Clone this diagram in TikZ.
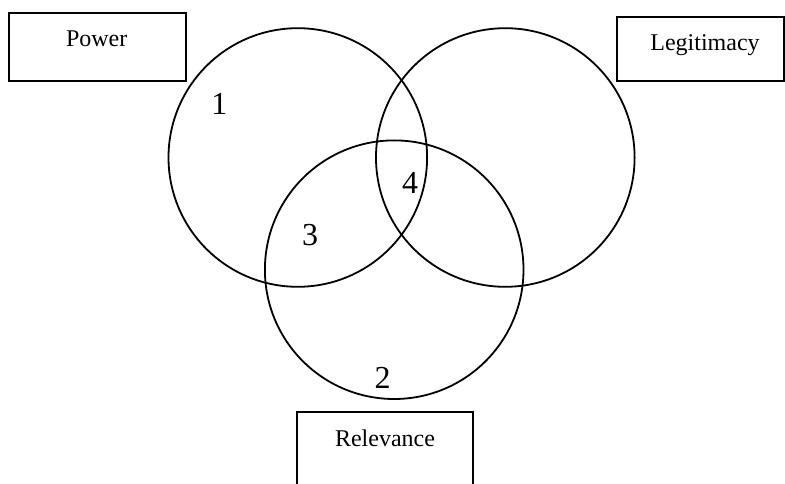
\documentclass[tikz,border=0pt]{standalone}
\usepackage{fontspec}
\setmainfont{Liberation Serif}
\begin{document}
\begin{tikzpicture}[x=1pt,y=-1pt,
  ring/.style={draw,circle,line width=1.8pt,inner sep=0pt,outer sep=0pt,minimum size=258.6pt},
  tag/.style={draw,rectangle,line width=2pt,inner sep=0pt,outer sep=0pt,anchor=north west},
  word/.style={font=\fontsize{24}{28}\selectfont,anchor=base,inner sep=0pt},
  digit/.style={font=\fontsize{32}{36}\selectfont,anchor=base,inner sep=0pt}]
\useasboundingbox (0,0) rectangle (785,484);
\clip (0,0) rectangle (785,484);
% the three overlapping circles
\node[ring] (powerring) at (297.8,157.5) {};
\node[ring] (legitring) at (505.3,157.5) {};
\node[ring] (relevring) at (394.2,269.7) {};
% labelled boxes
\node[tag,minimum width=177pt,minimum height=68pt] (powerbox) at (9,13) {};
\node[word] (powertxt) at (96.7,46.7) {Power};
\node[tag,minimum width=167pt,minimum height=64pt] (legitbox) at (617,17) {};
\node[word] (legittxt) at (705,50.7) {Legitimacy};
\node[tag,minimum width=176pt,minimum height=100pt] (relevbox) at (297.3,412) {};
\node[word] (relevtxt) at (385,446.7) {Relevance};
% region numbers
\node[digit] (one) at (219.3,115) {1};
\node[digit] (two) at (382.7,388.3) {2};
\node[digit] (three) at (310,245.7) {3};
\node[digit] (four) at (410,193.3) {4};
\end{tikzpicture}
\end{document}
